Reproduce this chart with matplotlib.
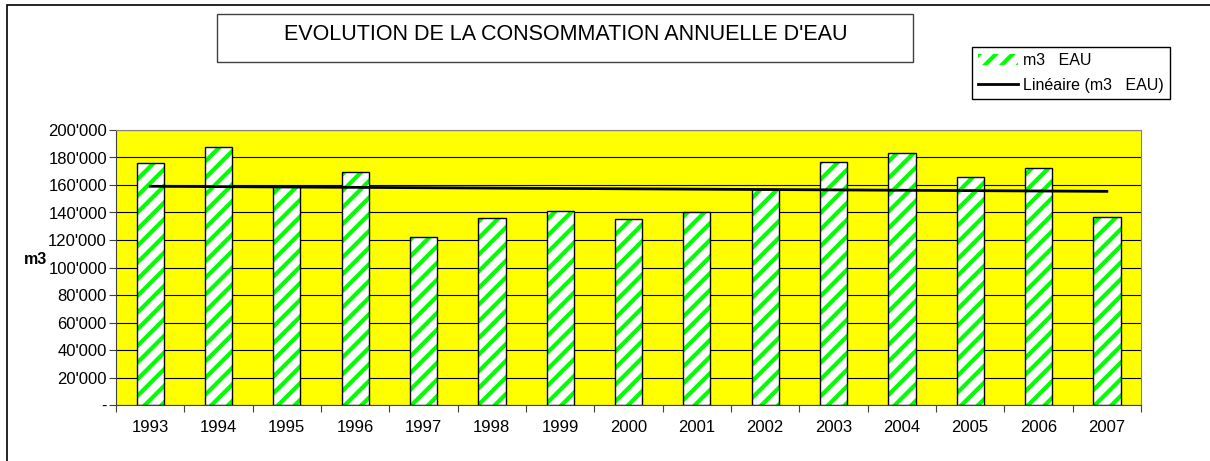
import numpy as np
import matplotlib.pyplot as plt
from matplotlib.patches import Rectangle, Patch
from matplotlib.lines import Line2D
from matplotlib.ticker import FuncFormatter

plt.rcParams['font.family'] = ['Liberation Sans', 'DejaVu Sans']
plt.rcParams['hatch.linewidth'] = 3.0

# Annual water consumption (m3)
years = ['1993', '1994', '1995', '1996', '1997', '1998', '1999', '2000',
         '2001', '2002', '2003', '2004', '2005', '2006', '2007']
m3_eau = [176000, 188000, 159000, 169500, 122000, 136000, 141000, 135000,
          140000, 157000, 177000, 183000, 166000, 172000, 137000]

x = np.arange(len(years))
vals = np.array(m3_eau)

# linear trend line (Excel "Linéaire")
slope, intercept = np.polyfit(x, vals, 1)
trend = slope * x + intercept

fig = plt.figure(figsize=(12.1, 4.61), dpi=100)
W, H = 1210, 461

# outer chart border
fig.patches.append(Rectangle((7 / W, -0.1), 1.2, (H - 5) / H + 0.1,
                             transform=fig.transFigure, fill=False,
                             edgecolor='black', lw=1.2, zorder=0))

# title box
fig.patches.append(Rectangle((217 / W, 1 - 62 / H), 696 / W, 48 / H,
                             transform=fig.transFigure, facecolor='white',
                             edgecolor='#404040', lw=1.0))
fig.text(566 / W, 1 - 35 / H, "EVOLUTION DE LA CONSOMMATION ANNUELLE D'EAU",
         ha='center', va='center', fontsize=15.5)

ax = fig.add_axes([116 / W, 1 - 405 / H, 1025 / W, 275 / H])
ax.set_facecolor('#FFFF00')

# bars: green hatch on white, black outline on top
ax.bar(x, vals, width=0.4, color='white', edgecolor='#00FF00', hatch='//',
       lw=0, zorder=2)
ax.bar(x, vals, width=0.4, color='none', edgecolor='black', lw=1.0, zorder=3)

ax.plot(x, trend, color='black', lw=2.0, zorder=4)

ax.set_xlim(-0.5, len(years) - 0.5)
ax.set_ylim(0, 200000)
ax.set_yticks(np.arange(0, 200001, 20000))
ax.yaxis.set_major_formatter(FuncFormatter(
    lambda v, p: '-' if v == 0 else f"{int(v):,}".replace(',', "'")))
ax.grid(axis='y', color='black', lw=0.8, zorder=1)
ax.set_axisbelow(True)

ax.set_xticks(np.arange(-0.5, len(years), 1.0))
ax.set_xticklabels([])
ax.set_xticks(x, minor=True)
ax.set_xticklabels(years, minor=True)
ax.tick_params(axis='x', which='major', length=5, direction='out', color='#404040')
ax.tick_params(axis='x', which='minor', length=0, pad=11, labelsize=12)
ax.tick_params(axis='y', length=5, direction='out', pad=1.5, labelsize=12,
               color='#404040')

for s in ['top', 'right']:
    ax.spines[s].set_color('#808080')
for s in ['left', 'bottom']:
    ax.spines[s].set_color('#404040')

ax.set_ylabel('m3', rotation=0, fontweight='bold', fontsize=11.5,
              ha='center', va='center')
ax.yaxis.set_label_coords(-0.079, 0.53)

handles = [Patch(facecolor='white', edgecolor='#00FF00', hatch='//', lw=0),
           Line2D([0], [0], color='black', lw=2.0)]
leg = fig.legend(handles, ['m3   EAU', 'Linéaire (m3   EAU)'],
                 loc='upper left', bbox_to_anchor=(972 / W, 1 - 47 / H),
                 bbox_transform=fig.transFigure, fontsize=11.5, frameon=True,
                 fancybox=False, edgecolor='black', framealpha=1,
                 handlelength=2.5, handletextpad=0.3, borderpad=0.4,
                 labelspacing=0.6, borderaxespad=0)
leg.get_frame().set_linewidth(1.0)

plt.savefig('out.png', dpi=100)
